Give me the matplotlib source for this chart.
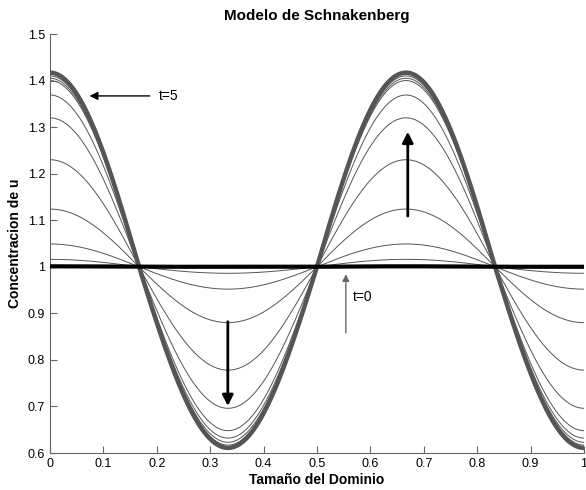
import numpy as np
import matplotlib.pyplot as plt

plt.rcParams['font.family'] = ['Liberation Sans', 'DejaVu Sans']

# values: maximum (x=0, 2/3) and minimum (x=1/3, 1) of each profile
peaks = [1.001, 1.016, 1.049, 1.124, 1.23, 1.32, 1.369, 1.40, 1.405, 1.41, 1.417]
troughs = [1.0, 0.986, 0.952, 0.880, 0.778, 0.696, 0.648, 0.632, 0.623, 0.617, 0.611]
modes = 1.5  # number of wavelengths in the domain

xticks = [0, 0.1, 0.2, 0.3, 0.4, 0.5, 0.6, 0.7, 0.8, 0.9, 1]
xticklabels = ["0", "0.1", "0.2", "0.3", "0.4", "0.5", "0.6", "0.7", "0.8", "0.9", "1"]
yticks = [0.6, 0.7, 0.8, 0.9, 1.0, 1.1, 1.2, 1.3, 1.4, 1.5]
yticklabels = ["0.6", "0.7", "0.8", "0.9", "1", "1.1", "1.2", "1.3", "1.4", "1.5"]

fig = plt.figure(figsize=(5.86, 4.9), dpi=100)
ax = fig.add_axes([0.0853, 0.0755, 0.9113, 0.8551])

x = np.linspace(0, 1, 600)
c = np.cos(2 * np.pi * modes * x)
n = len(peaks)
for i, (p, t) in enumerate(zip(peaks, troughs)):
    y = 1 + (p - 1) * np.clip(c, 0, None) + (1 - t) * np.clip(c, None, 0)
    if i == 0:
        ax.plot(x, y, color="black", lw=3, zorder=4)
    elif i == n - 1:
        ax.plot(x, y, color="#555555", lw=3.2, zorder=3)
    else:
        ax.plot(x, y, color="#555555", lw=0.7, zorder=2)

arrow_kw = dict(arrowstyle="-|>", color="black", lw=2, mutation_scale=16)
ax.annotate("", xy=(0.67, 1.296), xytext=(0.67, 1.103), arrowprops=arrow_kw)
ax.annotate("", xy=(0.333, 0.695), xytext=(0.333, 0.888), arrowprops=arrow_kw)
ax.annotate("", xy=(0.069, 1.367), xytext=(0.192, 1.367),
            arrowprops=dict(arrowstyle="-|>", color="black", lw=1, mutation_scale=12))
ax.text(0.203, 1.367, "t=5", fontsize=10, va="center", ha="left")
ax.annotate("", xy=(0.554, 0.99), xytext=(0.554, 0.852),
            arrowprops=dict(arrowstyle="-|>", color="#666666", lw=1, mutation_scale=10))
ax.text(0.568, 0.935, "t=0", fontsize=10, va="center", ha="left")

ax.set_xlim(0, 1)
ax.set_ylim(0.6, 1.5)
ax.set_xticks(xticks)
ax.set_xticklabels(xticklabels)
ax.set_yticks(yticks)
ax.set_yticklabels(yticklabels)
ax.tick_params(direction="in", length=5, color="#666666", labelsize=9)
for s in ["top", "right"]:
    ax.spines[s].set_visible(False)
for s in ["left", "bottom"]:
    ax.spines[s].set_color("#666666")

ax.set_title("Modelo de Schnakenberg", fontsize=11, fontweight="bold", pad=10)
ax.set_xlabel("Tamaño del Dominio", fontsize=10, fontweight="bold", labelpad=2)
ax.set_ylabel("Concentracion de u", fontsize=10, fontweight="bold", labelpad=4)

fig.savefig("out.png", dpi=100)
